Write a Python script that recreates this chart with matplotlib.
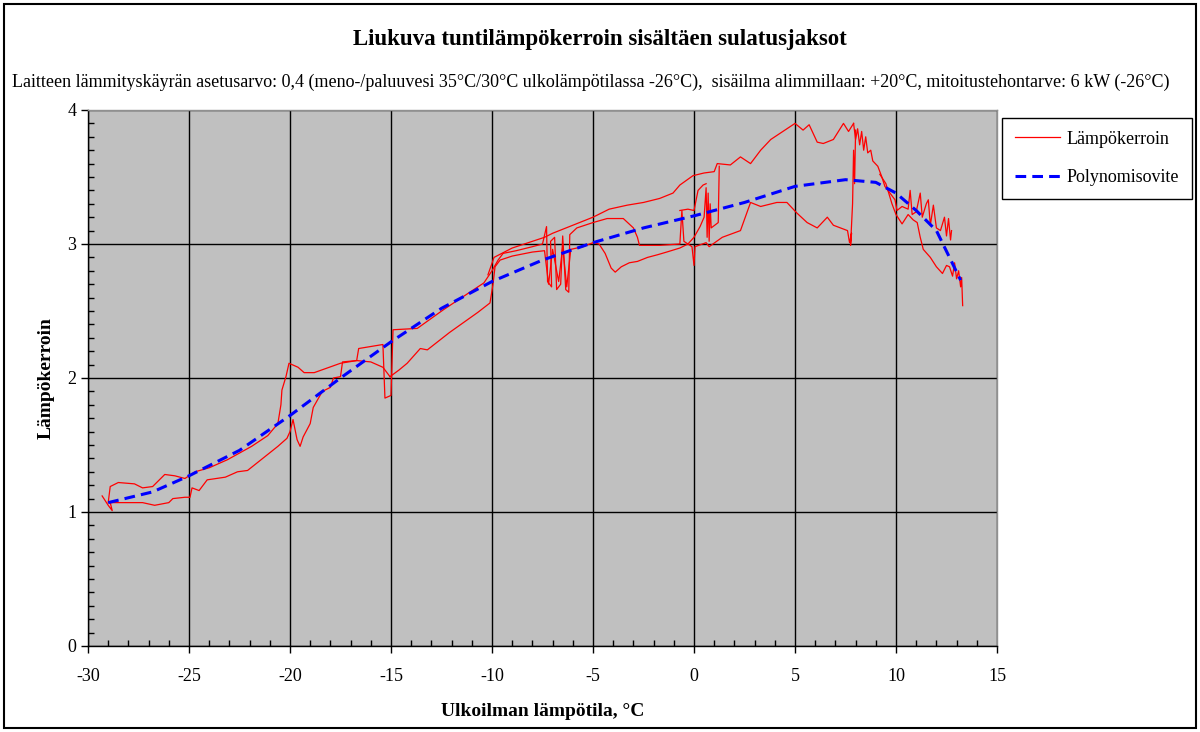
import matplotlib
matplotlib.use("Agg")
import matplotlib.pyplot as plt
from matplotlib.patches import Rectangle
from matplotlib.ticker import MultipleLocator

plt.rcParams['font.family'] = ['Liberation Serif', 'DejaVu Serif']
plt.rcParams['axes.unicode_minus'] = False

# Sliding hourly COP vs outdoor temperature, traced branch by branch (temp °C, COP)
cold_upper = [(-29.0, 1.07), (-28.9, 1.19), (-28.5, 1.22), (-27.7, 1.21), (-27.3, 1.18),
              (-26.8, 1.19), (-26.2, 1.28), (-25.7, 1.27), (-25.2, 1.25), (-24.7, 1.30),
              (-24.0, 1.33), (-23.1, 1.39), (-21.9, 1.49), (-21.1, 1.57), (-20.6, 1.66),
              (-20.45, 1.80), (-20.4, 1.91), (-20.2, 2.01), (-20.05, 2.11), (-19.6, 2.08),
              (-19.3, 2.04), (-18.8, 2.04), (-17.5, 2.11), (-16.7, 2.13), (-16.0, 2.12),
              (-15.4, 2.08), (-15.05, 2.01)]

cold_lower = [(-29.3, 1.12), (-29.0, 1.05), (-28.8, 1.01), (-28.9, 1.07), (-27.3, 1.07),
              (-26.7, 1.05), (-26.0, 1.07), (-25.8, 1.10), (-25.2, 1.11), (-24.95, 1.11),
              (-24.85, 1.18), (-24.5, 1.16), (-24.1, 1.24), (-23.2, 1.26), (-22.6, 1.30),
              (-22.1, 1.31), (-21.6, 1.37), (-21.1, 1.43), (-20.6, 1.49), (-20.15, 1.55),
              (-20.0, 1.60), (-19.85, 1.69), (-19.65, 1.54), (-19.5, 1.49), (-19.35, 1.56),
              (-19.0, 1.66), (-18.85, 1.78), (-18.4, 1.90), (-18.0, 1.93), (-17.85, 2.00),
              (-17.5, 2.01), (-17.4, 2.12), (-16.7, 2.13), (-16.6, 2.22), (-15.4, 2.25),
              (-15.3, 1.85), (-15.0, 1.87), (-14.9, 2.36), (-13.7, 2.37), (-12.4, 2.51),
              (-11.4, 2.61), (-10.4, 2.71), (-10.0, 2.80), (-9.7, 2.88), (-9.45, 2.93),
              (-8.8, 2.95), (-8.0, 2.98), (-7.5, 3.00), (-7.3, 3.13), (-7.25, 2.72),
              (-7.05, 2.68), (-7.1, 3.02), (-6.9, 3.05), (-6.8, 2.66), (-6.6, 2.70),
              (-6.5, 3.06), (-6.35, 2.66), (-6.2, 2.64), (-6.15, 3.07), (-5.8, 3.12),
              (-5.0, 3.16), (-4.3, 3.19), (-3.5, 3.19), (-3.0, 3.12), (-2.8, 3.05),
              (-2.7, 2.99), (-1.7, 2.99), (-0.7, 3.00), (-0.6, 3.25), (-0.5, 3.02),
              (-0.1, 2.98), (0.0, 2.84), (0.05, 2.98), (0.6, 3.01), (0.75, 2.98),
              (1.4, 3.05), (2.3, 3.10), (2.8, 3.31), (3.3, 3.28), (4.1, 3.31),
              (4.6, 3.31), (5.1, 3.23), (5.6, 3.16), (6.1, 3.12), (6.6, 3.20),
              (6.9, 3.14), (7.6, 3.10), (7.7, 3.01), (7.8, 3.08), (7.75, 2.99),
              (7.85, 3.30), (7.9, 3.70), (7.95, 3.45), (8.0, 3.85)]

mid_lower = [(-15.05, 2.01), (-14.6, 2.06), (-14.2, 2.11), (-13.55, 2.22), (-13.2, 2.21),
             (-12.1, 2.34), (-10.7, 2.49), (-10.1, 2.56), (-9.95, 2.70), (-9.85, 2.83),
             (-9.6, 2.88), (-9.0, 2.91), (-8.0, 2.94), (-7.4, 2.95), (-7.2, 2.70),
             (-7.0, 2.96), (-6.7, 2.72), (-6.5, 2.98), (-6.3, 2.68), (-6.1, 2.96),
             (-5.5, 2.98), (-5.0, 3.01), (-4.7, 3.00), (-4.4, 2.93), (-4.1, 2.82),
             (-3.9, 2.79), (-3.6, 2.83), (-3.2, 2.86), (-2.8, 2.87), (-2.3, 2.90),
             (-1.8, 2.92), (-1.35, 2.94), (-0.7, 2.97), (-0.3, 3.00), (0.0, 3.05),
             (0.3, 3.13), (0.5, 3.20), (0.6, 3.42), (0.65, 3.05), (0.7, 3.38),
             (0.75, 3.02), (0.8, 3.30), (0.85, 3.12), (1.2, 3.16), (1.25, 3.58)]

warm_upper = [(-10.2, 2.77), (-9.9, 2.90), (-9.0, 2.97), (-8.0, 3.02), (-7.4, 3.05),
              (-7.0, 3.08), (-6.5, 3.11), (-6.0, 3.14), (-5.0, 3.20), (-4.2, 3.26),
              (-3.3, 3.29), (-2.5, 3.31), (-1.7, 3.34), (-1.04, 3.38), (-0.7, 3.44),
              (-0.05, 3.51), (0.5, 3.53), (1.0, 3.54), (1.15, 3.60), (1.8, 3.59),
              (2.3, 3.65), (2.8, 3.60), (3.3, 3.70), (3.8, 3.78), (4.3, 3.83),
              (5.0, 3.90), (5.4, 3.85), (5.7, 3.89), (6.1, 3.76), (6.4, 3.75),
              (6.9, 3.78), (7.4, 3.90), (7.65, 3.84), (7.9, 3.90)]

near_zero = [(-0.7, 3.25), (-0.3, 3.26), (0.0, 3.25), (0.2, 3.40), (0.45, 3.44), (0.6, 3.45)]

descent_upper = [(7.9, 3.90), (8.0, 3.78), (8.1, 3.86), (8.2, 3.74), (8.3, 3.84),
                 (8.4, 3.70), (8.5, 3.80), (8.6, 3.68), (8.75, 3.70), (8.85, 3.62),
                 (9.1, 3.58), (9.3, 3.50), (9.45, 3.43), (9.7, 3.38), (9.95, 3.33),
                 (10.05, 3.25), (10.3, 3.28), (10.6, 3.26), (10.7, 3.40), (10.8, 3.22),
                 (11.0, 3.24), (11.2, 3.38), (11.3, 3.20), (11.5, 3.30), (11.6, 3.33),
                 (11.7, 3.14), (11.85, 3.29), (12.0, 3.12), (12.2, 3.10), (12.4, 3.20),
                 (12.5, 3.06), (12.6, 3.19), (12.7, 3.03), (12.75, 3.10)]

descent_lower = [(9.2, 3.52), (9.5, 3.45), (9.8, 3.30), (10.0, 3.22), (10.3, 3.15),
                 (10.6, 3.22), (10.85, 3.18), (11.05, 3.16), (11.2, 3.05), (11.35, 2.96),
                 (11.7, 2.90), (12.0, 2.83), (12.3, 2.78), (12.5, 2.84), (12.65, 2.83),
                 (12.8, 2.76), (12.9, 2.86), (13.0, 2.74), (13.1, 2.80), (13.2, 2.68),
                 (13.25, 2.75), (13.3, 2.54)]

cop_branches = [cold_upper, cold_lower, mid_lower, warm_upper, near_zero,
                descent_upper, descent_lower]

# Polynomial fit
fit_temp = [-29.0, -26.8, -25.0, -22.5, -20.0, -17.5, -15.0, -12.5, -10.0, -7.5,
            -5.0, -2.5, 0.0, 2.5, 5.0, 7.5, 9.0, 10.0, 11.0, 12.0, 13.2]
fit_cop = [1.07, 1.15, 1.27, 1.46, 1.72, 2.00, 2.27, 2.52, 2.72, 2.88,
           3.01, 3.12, 3.21, 3.31, 3.43, 3.48, 3.46, 3.38, 3.25, 3.10, 2.73]

fig = plt.figure(figsize=(12, 7.32), dpi=100)
ax = fig.add_axes([88 / 1200, 1 - 646 / 732, (997 - 88) / 1200, (646 - 110) / 732])
ax.set_facecolor('#c0c0c0')

for i, branch in enumerate(cop_branches):
    xs = [p[0] for p in branch]
    ys = [p[1] for p in branch]
    ax.plot(xs, ys, color='#ff0000', lw=0.9, label='Lämpökerroin' if i == 0 else None, zorder=3)

ax.plot(fit_temp, fit_cop, color='#0000ff', lw=2.2, dashes=(3.5, 2), label='Polynomisovite', zorder=4)

ax.set_xlim(-30, 15)
ax.set_ylim(0, 4)
ax.xaxis.set_major_locator(MultipleLocator(5))
ax.xaxis.set_minor_locator(MultipleLocator(1))
ax.yaxis.set_major_locator(MultipleLocator(1))
ax.yaxis.set_minor_locator(MultipleLocator(0.1))
ax.grid(True, which='major', color='black', lw=1)
ax.set_axisbelow(True)
ax.tick_params(which='major', direction='out', length=5, width=1, labelsize=13, color='black')
ax.tick_params(axis='x', which='major', pad=11)
ax.tick_params(which='minor', direction='in', length=4, width=1, color='black')

for side in ['left', 'bottom']:
    ax.spines[side].set_color('black')
    ax.spines[side].set_linewidth(1)
for side in ['top', 'right']:
    ax.spines[side].set_color('#909090')
    ax.spines[side].set_linewidth(1)

ax.set_xlabel('Ulkoilman lämpötila, °C', fontsize=14, fontweight='bold', labelpad=13)
ax.set_ylabel('Lämpökerroin', fontsize=14, fontweight='bold', labelpad=9)

fig.text(0.5, 1 - 40 / 732, 'Liukuva tuntilämpökerroin sisältäen sulatusjaksot',
         ha='center', va='center', fontsize=16.5, fontweight='bold')
fig.text(591 / 1200, 1 - 82 / 732,
         'Laitteen lämmityskäyrän asetusarvo: 0,4 (meno-/paluuvesi 35°C/30°C ulkolämpötilassa -26°C),  '
         'sisäilma alimmillaan: +20°C, mitoitustehontarve: 6 kW (-26°C)',
         ha='center', va='center', fontsize=13)

leg = fig.legend(loc='upper left', bbox_to_anchor=(1002 / 1200, 1 - 118 / 732),
                 fontsize=13, frameon=True, fancybox=False, edgecolor='black',
                 framealpha=1, borderaxespad=0, handlelength=2.5, handletextpad=0.4,
                 labelspacing=1.2, borderpad=0.7)
leg.get_frame().set_linewidth(1)

# outer chart frame
fig.patches.append(Rectangle((4 / 1200, 4 / 732), 1192 / 1200, 724 / 732, transform=fig.transFigure,
                             fill=False, edgecolor='black', lw=1.5))

fig.savefig('out.png', dpi=100)
